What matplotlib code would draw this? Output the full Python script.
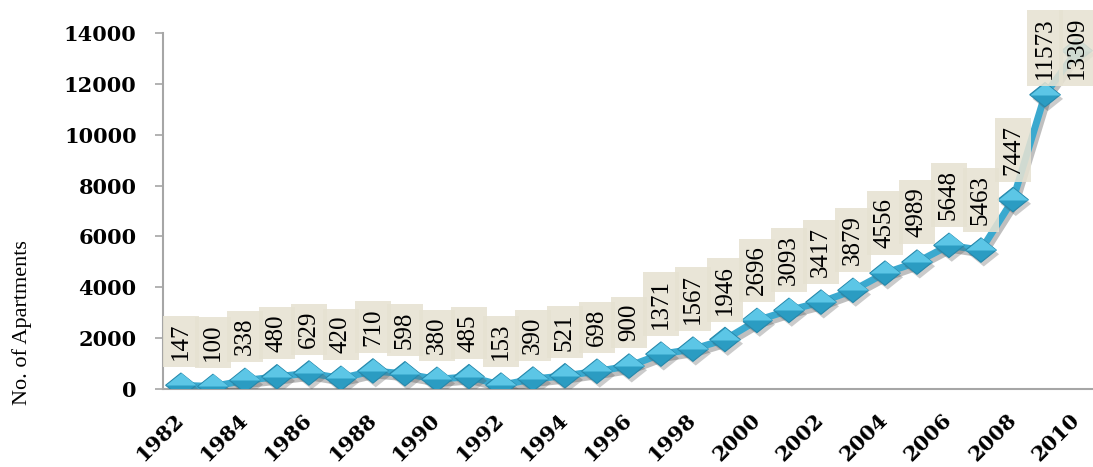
import matplotlib
matplotlib.use('Agg')
import matplotlib.pyplot as plt
import matplotlib.patheffects as pe
from matplotlib.transforms import ScaledTranslation

years = list(range(1982, 2011))
apartments = [147, 100, 338, 480, 629, 420, 710, 598, 380, 485,
              153, 390, 521, 698, 900, 1371, 1567, 1946, 2696, 3093,
              3417, 3879, 4556, 4989, 5648, 5463, 7447, 11573, 13309]
tick_years = list(range(1982, 2011, 2))
y_ticks = list(range(0, 14001, 2000))


def main():
    fig = plt.figure(figsize=(10.93, 4.67), dpi=100)
    ax = fig.add_axes([163 / 1093, 1 - 389 / 467, 1 - 163 / 1093, 356 / 467])

    line_col = '#3aa9cf'
    shadow = [pe.SimplePatchShadow(offset=(2, -3), shadow_rgbFace='#555555', alpha=0.3),
              pe.Normal()]

    # thick line with a soft drop shadow
    ax.plot(years, apartments, color=line_col, lw=5, solid_joinstyle='round',
            zorder=3, path_effects=[pe.SimpleLineShadow(offset=(2, -3), alpha=0.25),
                                    pe.Normal()])

    # bevelled diamonds: dark body, lighter upper half
    diamond = [(-1, 0), (0, 0.8), (1, 0), (0, -0.8), (-1, 0)]
    upper = [(-1, 0), (0, 0.8), (1, 0), (-1, 0)]
    ax.plot(years, apartments, ls='none', marker=diamond, ms=22,
            mfc='#2b9cc2', mec='#2688ab', mew=0.8, zorder=4, path_effects=shadow)
    ax.plot(years, apartments, ls='none', marker=upper, ms=22,
            mfc='#5cc6e6', mec='none', zorder=5)

    # value labels in beige boxes
    for yr, val in zip(years, apartments):
        box = dict(boxstyle='square,pad=0.28', fc='#e6e2d2', ec='none', alpha=0.88)
        if val > 11000:
            ax.text(yr, 1.045, str(val), transform=ax.get_xaxis_transform(),
                    rotation=90, ha='center', va='top', fontsize=18,
                    family='Liberation Serif', bbox=box, zorder=6, clip_on=False)
        else:
            ax.annotate(str(val), (yr, val), xytext=(0, 25),
                        textcoords='offset pixels', rotation=90,
                        ha='center', va='bottom', fontsize=18,
                        family='Liberation Serif', bbox=box, zorder=6,
                        annotation_clip=False)

    ax.set_xlim(1981.44, 2010.5)
    ax.set_ylim(0, 14000)
    ax.set_xticks(tick_years)
    ax.set_xticklabels([str(t) for t in tick_years], rotation=45, ha='right',
                       va='center', rotation_mode='anchor',
                       family='DejaVu Serif', fontweight='bold', fontsize=15)
    nudge = ScaledTranslation(5 / 100, 0, fig.dpi_scale_trans)
    for lab in ax.get_xticklabels():
        lab.set_transform(lab.get_transform() + nudge)
    ax.set_yticks(y_ticks)
    ax.set_yticklabels([str(t) for t in y_ticks], family='DejaVu Serif',
                       fontweight='bold', fontsize=15)
    ax.tick_params(axis='x', length=0, pad=20)
    ax.tick_params(axis='y', length=6, width=1.2, color='#a6a6a6', pad=13)

    for side in ['top', 'right']:
        ax.spines[side].set_visible(False)
    for side in ['left', 'bottom']:
        ax.spines[side].set_color('#a6a6a6')
        ax.spines[side].set_linewidth(1.5)

    fig.text(0.02, 1 - 323 / 467, 'No. of Apartments', rotation=90,
             ha='center', va='center', fontsize=16, family='Liberation Serif')

    fig.savefig('out.png', dpi=100)


if __name__ == '__main__':
    main()
